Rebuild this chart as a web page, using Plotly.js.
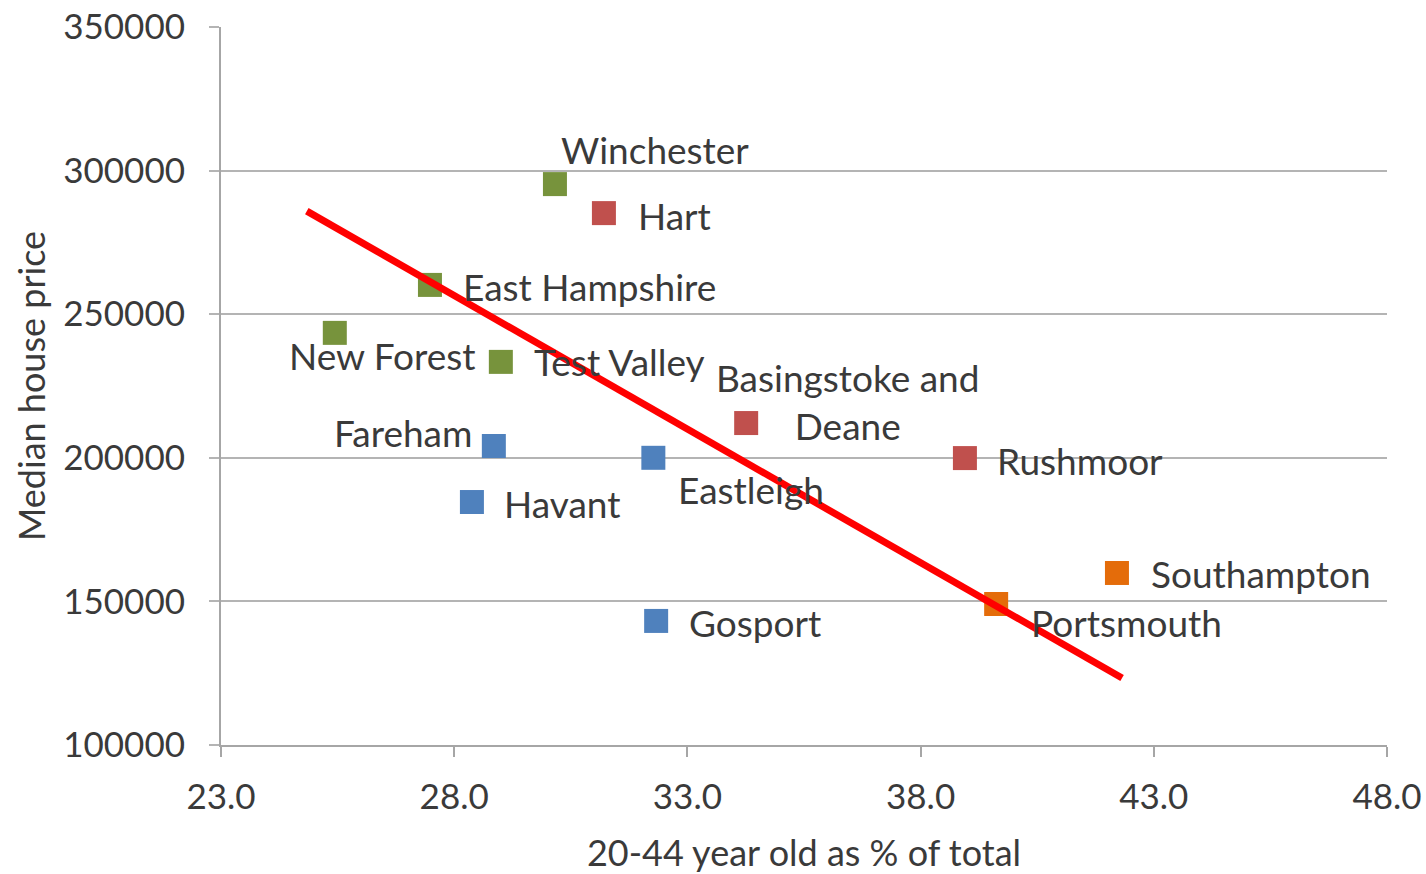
<!DOCTYPE html>
<html>
<head>
<meta charset="utf-8">
<script src="https://cdn.plot.ly/plotly-3.0.1.min.js"></script>
<style>
  html, body { margin: 0; padding: 0; background: #ffffff; }
  #chart { width: 1426px; height: 874px; }
</style>
</head>
<body>
<div id="chart"></div>
<script>
// ---- data ----
var districts = ["Winchester", "Hart", "East Hampshire", "New Forest", "Test Valley",
  "Basingstoke and<br>Deane", "Fareham", "Rushmoor", "Eastleigh", "Havant",
  "Gosport", "Southampton", "Portsmouth"];
var agePct = [30.16, 31.21, 27.48, 25.44, 29.0, 34.26, 28.85, 38.95, 32.27, 28.38, 32.33, 42.21, 39.62];
var housePrice = [295300, 285200, 260200, 243500, 233400, 212100, 204100, 199900, 200000, 184600, 143200, 159900, 149100];
var groups = ["green", "red", "green", "green", "green", "red", "blue", "red", "blue", "blue", "blue", "orange", "orange"];

var trendX = [24.84, 42.32];
var trendY = [285900, 123300];

var xTicks = [23, 28, 33, 38, 43, 48];
var xTickLabels = ["23.0", "28.0", "33.0", "38.0", "43.0", "48.0"];
var yTicks = [100000, 150000, 200000, 250000, 300000, 350000];
var yTickLabels = ["100000", "150000", "200000", "250000", "300000", "350000"];

// ---- styles ----
var colors = { green: "#77933C", red: "#C0504D", blue: "#4F81BD", orange: "#E46C0A" };
// label offsets in pixels [xanchor, xshift, yshift]
var labelPlacement = [
  ["left", 4, 35], ["left", 32, -2], ["left", 31, -2], ["left", -48, -23], ["left", 31, 0],
  ["center", 101, 22], ["right", -20, 14], ["left", 30, -2], ["left", 23, -32], ["left", 30, -1],
  ["left", 31, -2], ["left", 32, -1], ["left", 33, -19]
];
var FONT = "Lato, 'Open Sans', sans-serif";
var TXT = "#3a3a3a";

var traces = [];
["green", "red", "blue", "orange"].forEach(function (g) {
  var xs = [], ys = [];
  for (var i = 0; i < districts.length; i++) {
    if (groups[i] === g) { xs.push(agePct[i]); ys.push(housePrice[i]); }
  }
  traces.push({
    type: "scatter", mode: "markers", x: xs, y: ys,
    marker: { symbol: "square", size: 24, color: colors[g], line: { width: 0 } },
    hoverinfo: "skip", showlegend: false
  });
});
traces.push({
  type: "scatter", mode: "lines", x: trendX, y: trendY,
  line: { color: "#FF0000", width: 7 }, hoverinfo: "skip", showlegend: false
});

var annotations = districts.map(function (name, i) {
  var p = labelPlacement[i];
  return {
    x: agePct[i], y: housePrice[i], xref: "x", yref: "y",
    text: name, showarrow: false, xanchor: p[0], yanchor: "middle",
    xshift: p[1], yshift: p[2], align: "center",
    font: { family: FONT, size: 37, color: TXT }
  };
});

var layout = {
  width: 1426, height: 874,
  margin: { l: 221, r: 39, t: 27, b: 129, pad: 0 },
  paper_bgcolor: "#ffffff", plot_bgcolor: "#ffffff",
  font: { family: FONT, size: 35, color: TXT },
  xaxis: {
    range: [23, 48], tickmode: "array", tickvals: xTicks, ticktext: xTickLabels,
    showgrid: false, zeroline: false, showline: true, linecolor: "#a6a6a6", linewidth: 2,
    ticks: "outside", ticklen: 10, tickcolor: "#a6a6a6", tickwidth: 2,
    ticklabelstandoff: 10,
    tickfont: { family: FONT, size: 35, color: TXT },
    title: { text: "20-44 year old as % of total", font: { family: FONT, size: 36, color: TXT }, standoff: 28 }
  },
  yaxis: {
    range: [100000, 350000], tickmode: "array", tickvals: yTicks, ticktext: yTickLabels,
    showgrid: true, gridcolor: "#b4b4b4", gridwidth: 2, zeroline: false,
    showline: true, linecolor: "#a6a6a6", linewidth: 2,
    ticks: "outside", ticklen: 10, tickcolor: "#b4b4b4", tickwidth: 2,
    ticklabelstandoff: 17,
    tickfont: { family: FONT, size: 35, color: TXT },
    title: { text: "Median house price", font: { family: FONT, size: 36, color: TXT }, standoff: 7 }
  },
  annotations: annotations,
  showlegend: false
};

Plotly.newPlot("chart", traces, layout, { displayModeBar: false, staticPlot: true });
</script>
</body>
</html>
